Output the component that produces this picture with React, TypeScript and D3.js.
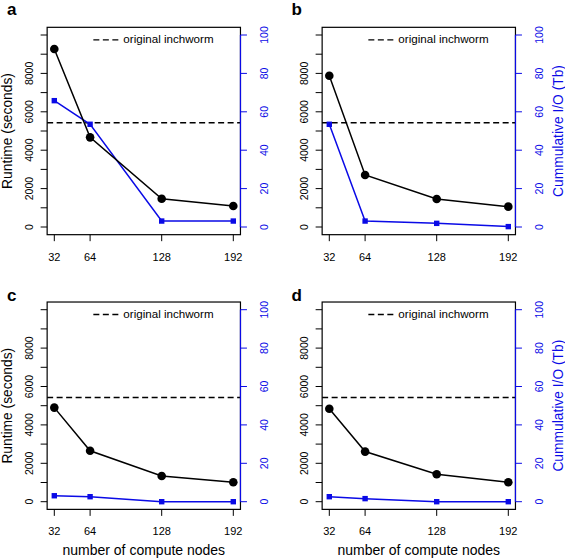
import React from "react";
import * as d3 from "d3";

const nodes = [32, 64, 128, 192];
const panelLetters = ["a", "b", "c", "d"];
const runtimeA = [9270, 4670, 1470, 1090];
const ioA = [65.8, 53.5, 3.1, 3.1];
const runtimeB = [7880, 2710, 1460, 1060];
const ioB = [53.5, 3.1, 1.9, 0.2];
const runtimeC = [4900, 2650, 1340, 1010];
const ioC = [3.1, 2.6, 0, 0];
const runtimeD = [4840, 2610, 1430, 1010];
const ioD = [2.6, 1.6, 0, 0];
const runtimeSeries = [runtimeA, runtimeB, runtimeC, runtimeD];
const ioSeries = [ioA, ioB, ioC, ioD];
const originalInchworm = 5430;
const leftTicks = [0, 1000, 2000, 3000, 4000, 5000, 6000, 7000, 8000, 9000, 10000];
const leftLabels = [0, 2000, 4000, 6000, 8000];
const rightTicks = [0, 20, 40, 60, 80, 100];

const FONT = "'Liberation Sans', Arial, Helvetica, sans-serif";
const BLUE = "#0a0ae6";

const colX = [54.3, 329.3];
const rowY = [227, 501.7];
const PW = 179;
const PH = 192;
const letterX = [7, 291.5];
const letterY = [15, 300.5];

function Panel({ idx }: { idx: number }) {
  const col = idx % 2;
  const row = Math.floor(idx / 2);
  const x0 = colX[col];
  const y0 = rowY[row];
  const x = d3.scaleLinear().domain([32, 192]).range([x0, x0 + PW]);
  const yL = d3.scaleLinear().domain([0, 10000]).range([y0, y0 - PH]);
  const yR = d3.scaleLinear().domain([0, 100]).range([y0, y0 - PH]);
  const bx0 = x(32 - 0.04 * 160);
  const bx1 = x(192 + 0.04 * 160);
  const by0 = yL(-400);
  const by1 = yL(10400);
  const rt = runtimeSeries[idx];
  const io = ioSeries[idx];
  const lineL = d3.line<number>().x((_, i) => x(nodes[i])).y((d) => yL(d));
  const lineR = d3.line<number>().x((_, i) => x(nodes[i])).y((d) => yR(d));
  const tickLen = 6.5;
  const legX = bx0 + 46.2;
  const legY = by1 + 16;
  return (
    <g>
      <text x={letterX[col]} y={letterY[row]} fontFamily={FONT} fontWeight="bold" fontSize={17} fill="#000">
        {panelLetters[idx]}
      </text>
      <line x1={bx0} x2={bx1} y1={yL(originalInchworm)} y2={yL(originalInchworm)} stroke="#000" strokeWidth={1.4} strokeDasharray="6,3.5" />
      <path d={lineR(io) || ""} fill="none" stroke={BLUE} strokeWidth={1.5} />
      {io.map((v, i) => (
        <rect key={"s" + i} x={x(nodes[i]) - 2.7} y={yR(v) - 2.7} width={5.4} height={5.4} fill={BLUE} />
      ))}
      <path d={lineL(rt) || ""} fill="none" stroke="#000" strokeWidth={1.5} />
      {rt.map((v, i) => (
        <circle key={"c" + i} cx={x(nodes[i])} cy={yL(v)} r={4.3} fill="#000" />
      ))}
      <rect x={bx0} y={by1} width={bx1 - bx0} height={by0 - by1} fill="none" stroke="#000" strokeWidth={1.2} />
      {leftTicks.map((t) => (
        <line key={"lt" + t} x1={bx0 - tickLen} x2={bx0} y1={yL(t)} y2={yL(t)} stroke="#000" strokeWidth={1} />
      ))}
      {leftLabels.map((t) => (
        <text key={"ll" + t} transform={`translate(${bx0 - 13.8},${yL(t)}) rotate(-90)`} textAnchor="middle" fontFamily={FONT} fontSize={10.5} fill="#000">
          {t}
        </text>
      ))}
      <line x1={bx1} x2={bx1} y1={yR(0)} y2={yR(100)} stroke={BLUE} strokeWidth={1.2} />
      {rightTicks.map((t) => (
        <line key={"rt" + t} x1={bx1} x2={bx1 + tickLen} y1={yR(t)} y2={yR(t)} stroke={BLUE} strokeWidth={1} />
      ))}
      {rightTicks.map((t) => (
        <text key={"rl" + t} transform={`translate(${bx1 + 27.8},${yR(t)}) rotate(-90)`} textAnchor="middle" fontFamily={FONT} fontSize={10.5} fill={BLUE}>
          {t}
        </text>
      ))}
      {nodes.map((n) => (
        <line key={"bt" + n} x1={x(n)} x2={x(n)} y1={by0} y2={by0 + tickLen} stroke="#000" strokeWidth={1} />
      ))}
      {nodes.map((n) => (
        <text key={"bl" + n} x={x(n)} y={by0 + 26} textAnchor="middle" fontFamily={FONT} fontSize={11} fill="#000">
          {n}
        </text>
      ))}
      <line x1={legX} x2={legX + 27} y1={legY - 3.5} y2={legY - 3.5} stroke="#000" strokeWidth={1.3} strokeDasharray="6,3.5" />
      <text x={legX + 30} y={legY} fontFamily={FONT} fontSize={11.6} fill="#000">
        original inchworm
      </text>
      {col === 0 && (
        <text transform={`translate(12,${(yL(0) + yL(10000)) / 2}) rotate(-90)`} textAnchor="middle" fontFamily={FONT} fontSize={13.8} fill="#000">
          Runtime (seconds)
        </text>
      )}
      {col === 1 && (
        <text transform={`translate(${bx1 + 47.3},${(yR(0) + yR(100)) / 2}) rotate(-90)`} textAnchor="middle" fontFamily={FONT} fontSize={13.8} fill={BLUE}>
          Cummulative I/O (Tb)
        </text>
      )}
      {row === 1 && (
        <text x={(x(32) + x(192)) / 2} y={by0 + 46} textAnchor="middle" fontFamily={FONT} fontSize={14} fill="#000">
          number of compute nodes
        </text>
      )}
    </g>
  );
}

export default function App() {
  return (
    <svg width={565} height={559} style={{ position: "absolute", left: 0, top: 0, background: "#fff" }}>
      <rect width={565} height={559} fill="#fff" />
      {[0, 1, 2, 3].map((i) => (
        <Panel key={i} idx={i} />
      ))}
    </svg>
  );
}
